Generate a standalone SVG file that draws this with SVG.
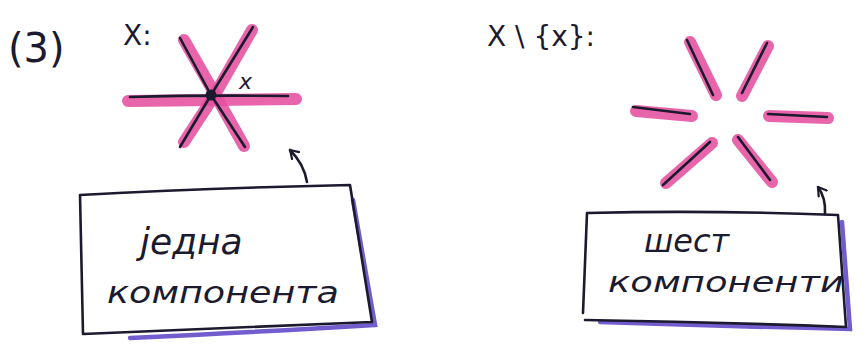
<svg xmlns="http://www.w3.org/2000/svg" width="866" height="350" viewBox="0 0 866 350">
<style>
.ink{fill:none;stroke:#1c1a2e;stroke-width:2.6;stroke-linecap:round;stroke-linejoin:round}
.hl{fill:none;stroke:#e5509f;stroke-width:12;stroke-linecap:round;opacity:0.88}
.shadow{fill:none;stroke:#5b3fc4;stroke-width:4.5;stroke-linecap:round;opacity:0.85}
.hand{font-family:"DejaVu Sans","Liberation Sans",sans-serif;fill:#1c1a2e}
.script{font-family:"DejaVu Sans","Liberation Sans",sans-serif;font-style:italic;fill:#1c1a2e}
</style>
<defs>
<marker id="arr" markerWidth="12" markerHeight="12" refX="9" refY="6" orient="auto" markerUnits="userSpaceOnUse">
<path d="M1,1 L9,6 L1,11" fill="none" stroke="#1c1a2e" stroke-width="2.2" stroke-linejoin="round" stroke-linecap="round"/>
</marker>
</defs>
<rect width="866" height="350" fill="#ffffff"/>

<g id="title-3">
<text class="hand" x="8" y="62" font-size="40">(3)</text>
</g>
<g id="label-X">
<text class="hand" x="123" y="45" font-size="28">X:</text>
</g>

<g id="star-left">
<path class="hl" d="M128,101 L296,99"/>
<path class="hl" d="M184,40 L216,96 L244,146"/>
<path class="hl" d="M252,30 L214,96 L184,142"/>
<path class="ink" d="M130,97 Q200,95 288,96"/>
<path class="ink" d="M180,38 L211,95 L245,147"/>
<path class="ink" d="M253,27 L211,95 L180,147"/>
<circle cx="211" cy="95" r="5.5" fill="#1c1a2e"/>
</g>
<g id="label-x">
<text class="script" x="239" y="89" font-size="22">x</text>
</g>

<g id="label-X-minus-x">
<text class="hand" x="487" y="46" font-size="28">X \ {x}:</text>
</g>

<g id="star-right">
<path class="hl" d="M690,42 L716,95"/>
<path class="hl" d="M768,46 L742,96"/>
<path class="hl" d="M636,111 L692,116"/>
<path class="hl" d="M769,116 L828,118"/>
<path class="hl" d="M712,143 L666,183"/>
<path class="hl" d="M738,140 L772,182"/>
<path class="ink" d="M687,40 L713,95"/>
<path class="ink" d="M767,43 L742,93"/>
<path class="ink" d="M633,107 L690,114"/>
<path class="ink" d="M768,114 L827,117"/>
<path class="ink" d="M710,142 L663,185"/>
<path class="ink" d="M738,137 L770,180"/>
</g>

<g id="box-left">
<path class="shadow" d="M353,200 L375,325 Q260,332 130,338"/>
<path class="ink" d="M80,195 Q210,188 350,185 L372,322 Q230,328 83,334 Z" fill="#ffffff"/>
<text class="script" x="140" y="254" font-size="36">једна</text>
<text class="script" x="107" y="303" font-size="30" textLength="232" lengthAdjust="spacingAndGlyphs">компонента</text>
</g>

<g id="box-right">
<path class="shadow" d="M842,222 L850,329 Q720,326 600,322"/>
<path class="ink" d="M587,213 Q710,210 838,215 L846,327 Q715,322 585,320 M583,313 L587,213"/>
<text class="script" x="644" y="252" font-size="32">шест</text>
<text class="script" x="608" y="292" font-size="28" textLength="236" lengthAdjust="spacingAndGlyphs">компоненти</text>
</g>

<g id="connectors">
<path class="ink" d="M307,182 Q304,164 290,150" marker-end="url(#arr)"/>
<path class="ink" d="M825,214 Q826,198 818,187" marker-end="url(#arr)"/>
</g>
</svg>
